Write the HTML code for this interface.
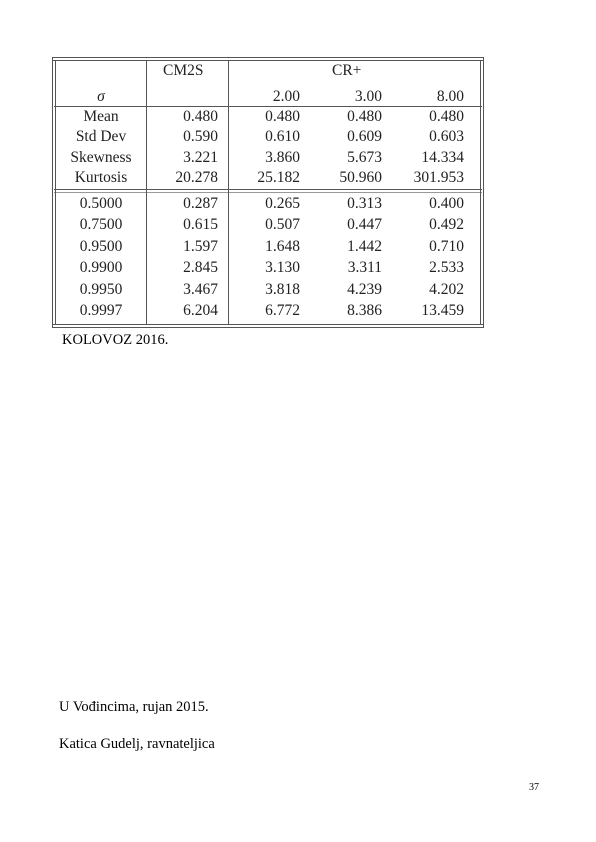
<!DOCTYPE html>
<html><head><meta charset="utf-8"><style>
body{margin:0;width:596px;height:842px;background:#fff;position:relative;overflow:hidden;font-family:"Liberation Serif",serif;color:#222}
.t{position:absolute;font-size:15.5px;line-height:18px;white-space:nowrap}
.r{text-align:right;width:80px}
.c{text-align:center;width:90px}
.h{position:absolute;height:1px;background:#555}
.v{position:absolute;width:1px;background:#555}
.p{position:absolute;font-size:14.5px;white-space:nowrap;color:#000}
</style></head><body>
<div>
<div class="h" style="left:52px;top:57px;width:432px"></div>
<div class="h" style="left:52px;top:60px;width:432px"></div>
<div class="h" style="left:54px;top:106px;width:428px"></div>
<div class="h" style="left:54px;top:189px;width:428px"></div>
<div class="h" style="left:54px;top:192px;width:428px;background:#999"></div>
<div class="h" style="left:52px;top:324px;width:432px"></div>
<div class="h" style="left:52px;top:327px;width:432px"></div>
<div class="v" style="left:52px;top:57px;height:271px"></div>
<div class="v" style="left:55px;top:60px;height:265px"></div>
<div class="v" style="left:480px;top:60px;height:265px"></div>
<div class="v" style="left:483px;top:57px;height:271px"></div>
<div class="v" style="left:146px;top:60px;height:265px"></div>
<div class="v" style="left:228px;top:60px;height:265px"></div>
<div class="t" style="left:163px;top:62px">CM2S</div>
<div class="t" style="left:332px;top:62px">CR+</div>
<div class="t c" style="left:56px;top:88px;font-style:italic">σ</div>
<div class="t r" style="left:220px;top:88px">2.00</div>
<div class="t r" style="left:302px;top:88px">3.00</div>
<div class="t r" style="left:384px;top:88px">8.00</div>
</div>
<div id="rows"></div>
<div class="p" style="left:62px;top:332px">KOLOVOZ 2016.</div>
<div class="p" style="left:59px;top:699px">U Vođincima, rujan 2015.</div>
<div class="p" style="left:59px;top:736px">Katica Gudelj, ravnateljica</div>
<div class="p" style="left:529px;top:782px;font-size:10px">37</div>
<script>
const labels=["Mean","Std Dev","Skewness","Kurtosis","0.5000","0.7500","0.9500","0.9900","0.9950","0.9997"];
const cm2s=["0.480","0.590","3.221","20.278","0.287","0.615","1.597","2.845","3.467","6.204"];
const cr2=["0.480","0.610","3.860","25.182","0.265","0.507","1.648","3.130","3.818","6.772"];
const cr3=["0.480","0.609","5.673","50.960","0.313","0.447","1.442","3.311","4.239","8.386"];
const cr8=["0.480","0.603","14.334","301.953","0.400","0.492","0.710","2.533","4.202","13.459"];
const tops=[108,128,149,169,195,216,238,259,281,302];
const host=document.getElementById('rows');
labels.forEach((l,i)=>{
 const row=document.createElement('div');
 
 
 const add=(txt,cls,left)=>{const d=document.createElement('div');d.className='t '+cls;d.style.left=left+'px';d.style.top=tops[i]+'px';d.textContent=txt;row.appendChild(d);};
 add(l,'c',56);
 add(cm2s[i],'r',138);add(cr2[i],'r',220);add(cr3[i],'r',302);add(cr8[i],'r',384);
 host.appendChild(row);
});
</script>
</body></html>
